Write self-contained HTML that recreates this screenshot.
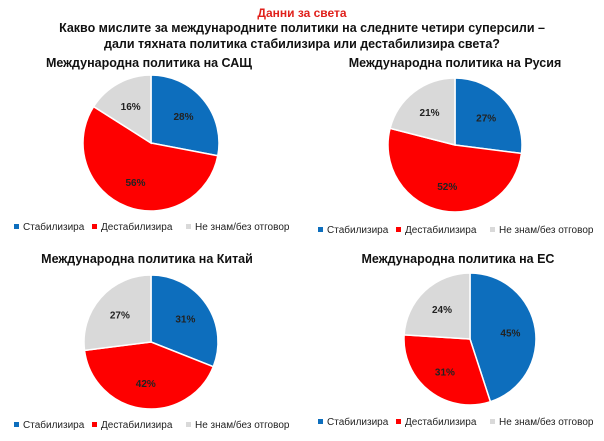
<!DOCTYPE html>
<html><head><meta charset="utf-8"><style>
body{margin:0;background:#fff;width:604px;height:436px;overflow:hidden;font-family:"Liberation Sans","DejaVu Sans",sans-serif}
</style></head><body>
<svg width="604" height="436" viewBox="0 0 604 436" xmlns="http://www.w3.org/2000/svg" font-family="Liberation Sans, DejaVu Sans, sans-serif">
<g font-weight="bold" text-anchor="middle">
<text x="302" y="17" font-size="12" fill="#e0201b">Данни за света</text>
<text x="302" y="32" font-size="12.5" fill="#111">Какво мислите за международните политики на следните четири суперсили –</text>
<text x="302" y="48" font-size="12.5" fill="#111">дали тяхната политика стабилизира или дестабилизира света?</text>
<text x="149" y="67" font-size="12.5" fill="#111">Международна политика на САЩ</text>
<text x="455" y="67" font-size="12.5" fill="#111">Международна политика на Русия</text>
<text x="147" y="263" font-size="12.5" fill="#111">Международна политика на Китай</text>
<text x="458" y="263" font-size="12.5" fill="#111">Международна политика на ЕС</text>
</g>
<g id="pies" stroke="#fff" stroke-width="1.5"></g>
<g font-size="10" fill="#222" id="legs"></g>
</svg>
<script>
const ns="http://www.w3.org/2000/svg";
const cols=["#0d6ebd","#fe0000","#d9d9d9"];
const pies=[[151,143,68,[28,56,16]],[455,145,67,[27,52,21]],[151,342,67,[31,42,27]],[470,339,66,[45,31,24]]];
const g=document.getElementById("pies");
pies.forEach(([cx,cy,r,v])=>{
 let a=0;
 v.forEach((p,i)=>{
  const a0=a/100*2*Math.PI,a1=(a+p)/100*2*Math.PI;
  const x0=cx+r*Math.sin(a0),y0=cy-r*Math.cos(a0),x1=cx+r*Math.sin(a1),y1=cy-r*Math.cos(a1);
  const path=document.createElementNS(ns,"path");
  path.setAttribute("d",`M${cx},${cy}L${x0},${y0}A${r},${r} 0 ${p>50?1:0} 1 ${x1},${y1}Z`);
  path.setAttribute("fill",cols[i]);g.appendChild(path);
  const m=(a+p/2)/100*2*Math.PI,lr=r*0.62;
  const t=document.createElementNS(ns,"text");
  t.setAttribute("x",cx+lr*Math.sin(m));t.setAttribute("y",cy-lr*Math.cos(m)+4);
  t.setAttribute("text-anchor","middle");t.setAttribute("font-size","10");t.setAttribute("font-weight","bold");
  t.setAttribute("fill","#222");t.setAttribute("stroke","none");t.textContent=p+"%";g.appendChild(t);
  a+=p;
 });
});
const L=document.getElementById("legs");
const names=["Стабилизира","Дестабилизира","Не знам/без отговор"];
[[14,230],[318,233],[14,428],[318,425]].forEach(([x,y])=>{
 const off=[0,78,172];
 names.forEach((n,i)=>{
  const r=document.createElementNS(ns,"rect");
  r.setAttribute("x",x+off[i]);r.setAttribute("y",y-6);r.setAttribute("width",5);r.setAttribute("height",5);r.setAttribute("fill",cols[i]);L.appendChild(r);
  const t=document.createElementNS(ns,"text");
  t.setAttribute("x",x+off[i]+9);t.setAttribute("y",y);t.textContent=n;L.appendChild(t);
 });
});
</script>
</body></html>
